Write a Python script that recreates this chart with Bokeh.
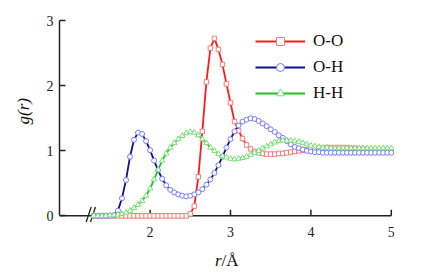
from bokeh.plotting import figure
from bokeh.models import Range1d, FixedTicker, Legend, LegendItem, ColumnDataSource, Title
from bokeh.core.properties import value
from bokeh.embed import file_html
from bokeh.resources import INLINE

# distance r (Angstrom)
r = [1.30, 1.35, 1.40, 1.45, 1.50, 1.55, 1.60, 1.65, 1.70, 1.75,
     1.80, 1.85, 1.90, 1.95, 2.00, 2.05, 2.10, 2.15, 2.20, 2.25,
     2.30, 2.35, 2.40, 2.45, 2.50, 2.55, 2.60, 2.65, 2.70, 2.75,
     2.80, 2.85, 2.90, 2.95, 3.00, 3.05, 3.10, 3.15, 3.20, 3.25,
     3.30, 3.35, 3.40, 3.45, 3.50, 3.55, 3.60, 3.65, 3.70, 3.75,
     3.80, 3.85, 3.90, 3.95, 4.00, 4.05, 4.10, 4.15, 4.20, 4.25,
     4.30, 4.35, 4.40, 4.45, 4.50, 4.55, 4.60, 4.65, 4.70, 4.75,
     4.80, 4.85, 4.90, 4.95, 5.00]

g_OO = [0, 0, 0, 0, 0, 0, 0, 0, 0, 0,
        0, 0, 0, 0, 0, 0, 0, 0, 0, 0,
        0, 0, 0, 0, 0.03, 0.15, 0.60, 1.30, 2.06, 2.58,
        2.73, 2.56, 2.33, 2.03, 1.74, 1.45, 1.31, 1.19, 1.09, 1.03,
        0.99, 0.97, 0.96, 0.95, 0.95, 0.95, 0.96, 0.96, 0.97, 0.98,
        0.99, 1.00, 1.01, 1.02, 1.03, 1.03, 1.04, 1.04, 1.05, 1.05,
        1.05, 1.05, 1.05, 1.05, 1.04, 1.04, 1.03, 1.03, 1.02, 1.02,
        1.01, 1.01, 1.01, 1.00, 1.00]

g_OH = [0, 0, 0, 0, 0, 0.01, 0.08, 0.27, 0.55, 0.91,
        1.17, 1.28, 1.26, 1.15, 1.01, 0.85, 0.70, 0.57, 0.47, 0.40,
        0.36, 0.33, 0.31, 0.30, 0.31, 0.33, 0.36, 0.41, 0.48, 0.56,
        0.66, 0.78, 0.91, 1.05, 1.18, 1.30, 1.39, 1.45, 1.48, 1.50,
        1.49, 1.46, 1.42, 1.38, 1.33, 1.29, 1.24, 1.20, 1.15, 1.10,
        1.06, 1.04, 1.02, 1.00, 0.99, 0.98, 0.98, 0.97, 0.97, 0.97,
        0.97, 0.97, 0.97, 0.97, 0.97, 0.97, 0.97, 0.97, 0.97, 0.97,
        0.97, 0.97, 0.97, 0.97, 0.97]

g_HH = [0, 0, 0, 0, 0.01, 0.01, 0.02, 0.03, 0.05, 0.08,
        0.12, 0.17, 0.23, 0.31, 0.42, 0.56, 0.71, 0.85, 0.96, 1.05,
        1.12, 1.18, 1.23, 1.27, 1.29, 1.28, 1.24, 1.18, 1.12, 1.05,
        1.00, 0.95, 0.92, 0.90, 0.88, 0.87, 0.88, 0.89, 0.91, 0.94,
        0.97, 1.00, 1.04, 1.07, 1.10, 1.13, 1.15, 1.16, 1.16, 1.16,
        1.15, 1.14, 1.12, 1.10, 1.08, 1.07, 1.06, 1.05, 1.05, 1.04,
        1.04, 1.04, 1.04, 1.04, 1.04, 1.04, 1.04, 1.04, 1.04, 1.04,
        1.04, 1.04, 1.04, 1.04, 1.04]

series_names = ["O-O", "O-H", "H-H"]
x_ticks = [2, 3, 4, 5]
x_tick_labels = ["2", "3", "4", "5"]
y_ticks = [0, 1, 2, 3]
x_start, x_end = 0.873, 5.0

FONT = "Liberation Serif"
AX = "#222222"

p = figure(width=406, height=268, output_backend="svg", toolbar_location=None,
           title=None,
           x_range=Range1d(x_start, 5.04), y_range=Range1d(-0.81, 3.005),
           min_border_left=58, min_border_right=12,
           min_border_top=20, min_border_bottom=0)
p.outline_line_color = None
p.grid.visible = False
p.xaxis.visible = False

# y axis (regular Bokeh axis)
p.yaxis.bounds = (0, 3)
p.yaxis.ticker = FixedTicker(ticks=y_ticks)
p.yaxis.axis_line_width = 1.5
p.yaxis.axis_line_color = AX
p.yaxis.major_tick_line_color = AX
p.yaxis.major_tick_line_width = 1.5
p.yaxis.major_tick_in = 6
p.yaxis.major_tick_out = 0
p.yaxis.minor_tick_line_color = None
p.yaxis.major_label_standoff = 6
p.yaxis.major_label_text_font = FONT
p.yaxis.major_label_text_font_size = "14px"
p.yaxis.major_label_text_color = AX

p.add_layout(Title(text="g(r)", align="left", offset=144,
                   text_font=FONT, text_font_style="italic",
                   text_font_size="17px", text_color="#111111",
                   standoff=22), "left")

# x axis drawn at g = 0: line, inward ticks, tick labels, title
p.segment(x0=[x_start], y0=[0], x1=[x_end], y1=[0], line_color=AX, line_width=1.5)
p.segment(x0=x_ticks, y0=[0] * len(x_ticks), x1=x_ticks, y1=[0.092] * len(x_ticks),
          line_color=AX, line_width=1.5)
p.text(x=x_ticks, y=[0] * len(x_ticks), text=x_tick_labels,
       text_font=value(FONT), text_font_size="14px", text_color=AX,
       text_align="center", text_baseline="middle", y_offset=16)
p.text(x=[2.888], y=[0], text=["r"], text_font=value(FONT), text_font_style="italic",
       text_font_size="17px", text_color="#111111",
       text_align="right", text_baseline="alphabetic", y_offset=45)
p.text(x=[2.888], y=[0], text=["/Å"], text_font=value(FONT),
       text_font_size="17px", text_color="#111111",
       text_align="left", text_baseline="alphabetic", y_offset=45)
# axis break marks
p.segment(x0=[1.205, 1.258], y0=[-0.095, -0.095], x1=[1.267, 1.32], y1=[0.135, 0.135],
          line_color=AX, line_width=1.3)

src = ColumnDataSource(dict(r=r, oo=g_OO, oh=g_OH, hh=g_HH))

styles = [
    ("oo", "#ff1a1a", "#ff7878", "square", 4.5),
    ("oh", "#10108f", "#7878ff", "circle", 5),
    ("hh", "#22c022", "#78e078", "triangle", 5.5),
]
items = []
for (col, lc, mc, mk, sz), name in zip(styles, series_names):
    ln = p.line("r", col, source=src, line_color=lc, line_width=1.8)
    sc = p.scatter("r", col, source=src, marker=mk, size=sz,
                   line_color=mc, line_width=1, fill_color="white")
    items.append(LegendItem(label=name, renderers=[ln, sc]))

legend = Legend(items=items, location=(196, 165),
                label_text_font=FONT, label_text_font_size="17px",
                label_text_color="#111111",
                glyph_width=50, glyph_height=20, label_height=20,
                spacing=6, padding=0, margin=0, label_standoff=8,
                border_line_color=None, background_fill_alpha=0)
p.add_layout(legend)

open("out.html", "w").write(file_html(p, INLINE))
